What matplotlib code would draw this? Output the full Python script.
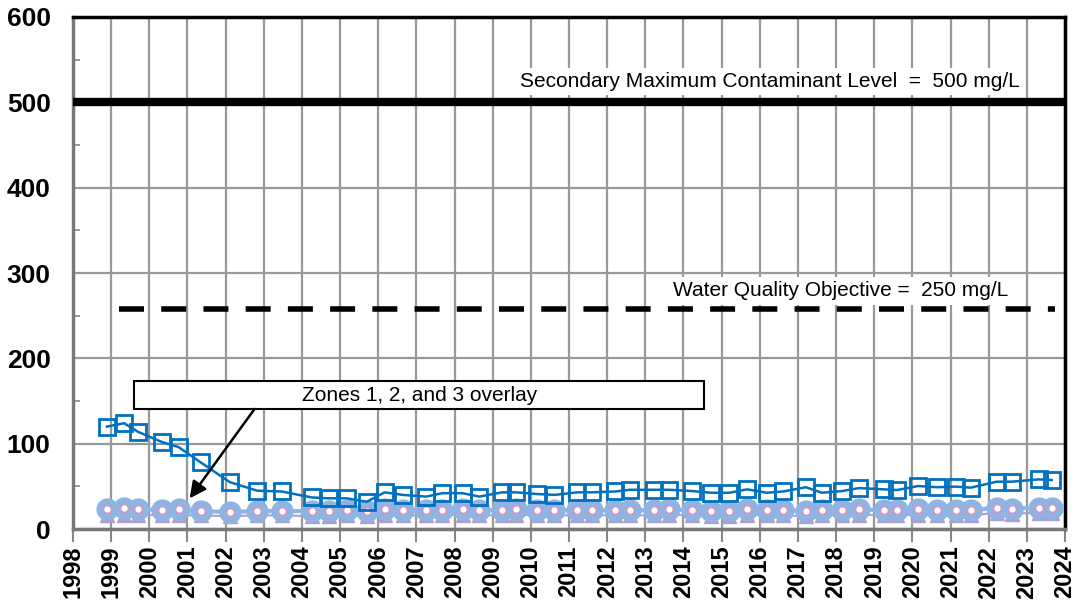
import matplotlib.pyplot as plt
from matplotlib.patches import Rectangle

plt.rcParams['font.family'] = ['Liberation Sans', 'DejaVu Sans']

# sample dates (decimal year) and concentrations (mg/L)
dates = [1998.89, 1999.34, 1999.70, 2000.33, 2000.77, 2001.35, 2002.11, 2002.82,
         2003.47, 2004.26, 2004.70, 2005.17, 2005.70, 2006.17, 2006.64, 2007.26,
         2007.68, 2008.21, 2008.65, 2009.25, 2009.62, 2010.17, 2010.62, 2011.22,
         2011.61, 2012.21, 2012.60, 2013.22, 2013.63, 2014.23, 2014.73, 2015.20,
         2015.67, 2016.19, 2016.61, 2017.21, 2017.63, 2018.16, 2018.60, 2019.26,
         2019.60, 2020.15, 2020.65, 2021.14, 2021.53, 2022.21, 2022.61, 2023.31,
         2023.65]
zone_sq = [120, 124, 114, 102, 96, 78, 55, 45,
           44, 37, 36, 36, 32, 43, 40, 38,
           42, 42, 38, 43, 43, 41, 40, 43,
           43, 44, 46, 46, 46, 44.5, 42.5, 42.5,
           46.5, 42.5, 44, 49, 42.5, 44.5, 48, 46.5,
           45.7, 50.4, 49, 49.7, 48.5, 55.5, 55.5, 58.2,
           57.4]
zone_circ = [23, 25, 24, 22, 23, 21, 20, 21,
             21, 21, 21, 22, 21, 23, 22, 22,
             22, 23, 22, 22, 23, 22, 22, 22,
             22, 22, 22, 22, 23, 22, 21, 21,
             23, 22, 22, 21, 22, 22, 23, 22,
             22, 23, 22, 22, 22, 25, 24, 25,
             25]
zone_tri = [16, 17, 17, 16, 16, 16, 15, 16,
            16, 15, 15, 16, 15, 17, 16, 16,
            16, 17, 16, 16, 17, 16, 16, 16,
            16, 16, 16, 16, 17, 16, 15, 15,
            17, 16, 16, 15, 16, 16, 17, 16,
            16, 17, 16, 16, 16, 19, 18, 19,
            19]

smcl = 500
wqo = 258
years = list(range(1998, 2025))

fig = plt.figure(figsize=(10.84, 6.06), dpi=100)
ax = fig.add_axes([0.0673, 0.127, 0.9152, 0.845])

ax.set_xlim(1998, 2024)
ax.set_ylim(0, 600)
ax.set_xticks(years)
ax.set_xticklabels([str(y) for y in years], rotation=90, fontsize=17, fontweight='bold')
ax.set_yticks(range(0, 601, 100))
ax.set_yticks(range(50, 600, 100), minor=True)
ax.set_yticklabels([str(v) for v in range(0, 601, 100)], fontsize=19, fontweight='bold')
ax.tick_params(axis='x', direction='out', length=9, width=1.5, color='#888888', pad=3)
ax.tick_params(axis='y', which='major', length=0, pad=16)
ax.tick_params(axis='y', which='minor', direction='in', length=5, width=1.2, color='#888888')
ax.grid(True, which='major', color='#999999', lw=1.6)
ax.set_axisbelow(True)

for s in ['left', 'bottom']:
    ax.spines[s].set_color('#777777')
    ax.spines[s].set_linewidth(2.5)
for s in ['top', 'right']:
    ax.spines[s].set_color('black')
    ax.spines[s].set_linewidth(2.5)

# reference levels
ax.axhline(smcl, color='black', lw=6, zorder=3)
ax.plot([1999.2, 2023.75], [wqo, wqo], color='black', lw=4, ls=(0, (4.5, 3.1)), zorder=3)
ax.text(2016.27, 524, 'Secondary Maximum Contaminant Level  =  500 mg/L', fontsize=15,
        ha='center', va='center', zorder=4,
        bbox=dict(facecolor='white', edgecolor='none', pad=3))
ax.text(2018.13, 279, 'Water Quality Objective =  250 mg/L', fontsize=15,
        ha='center', va='center', zorder=4,
        bbox=dict(facecolor='white', edgecolor='none', pad=3))

# data series
ax.plot(dates, zone_tri, color='#B39DCB', lw=1.5, marker='^', ms=10,
        mfc='#B39DCB', mec='#B39DCB', zorder=5)
ax.plot(dates, zone_circ, color='#8DB4E2', lw=3, marker='o', ms=15,
        mfc='#8DB4E2', mec='#8DB4E2', zorder=6)
ax.plot(dates, zone_circ, ls='none', marker='o', ms=6, mfc='white',
        mec='#C79BC9', mew=1.5, zorder=7)
ax.plot(dates, zone_sq, color='#0070C0', lw=1.8, marker='s', ms=12,
        mfc='none', mec='#0070C0', mew=2, zorder=8)

# overlay note
ax.add_patch(Rectangle((1999.6, 140.7), 14.95, 32.8, facecolor='white',
                       edgecolor='black', lw=1.5, zorder=9))
ax.text(2007.08, 157, 'Zones 1, 2, and 3 overlay', fontsize=15, ha='center',
        va='center', zorder=10)
ax.annotate('', xy=(2001.06, 36), xytext=(2002.76, 140.7),
            arrowprops=dict(arrowstyle='-|>', color='black', lw=1.8,
                            mutation_scale=25, shrinkA=0, shrinkB=0), zorder=10)

fig.savefig('out.png', dpi=100)
